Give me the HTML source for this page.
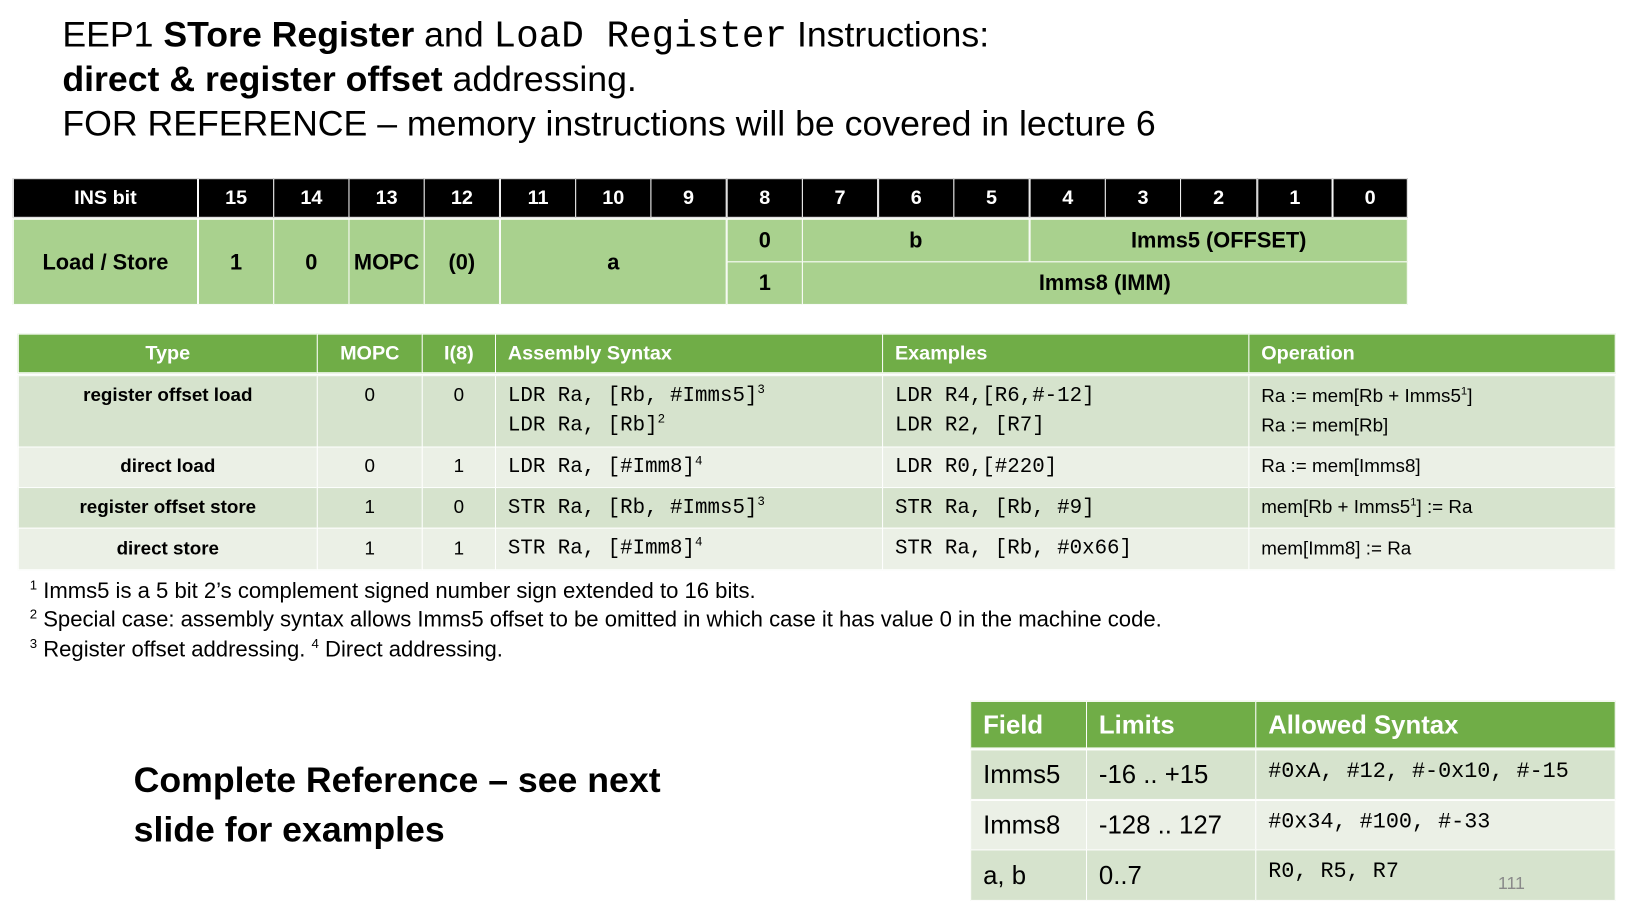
<!DOCTYPE html>
<html><head><meta charset="utf-8"><style>
*{margin:0;padding:0;box-sizing:border-box}
body{width:1642px;height:916px;background:#fff;position:relative;overflow:hidden;font-family:"Liberation Sans",sans-serif;color:#000}
#w{position:absolute;left:0;top:0;width:1642px;height:916px;transform:scale(0.99);transform-origin:0 0}
.a{position:absolute}
.c{position:absolute;display:flex;align-items:center;justify-content:center;border:1px solid #fff;white-space:nowrap}
.l{justify-content:flex-start;padding-left:12px}
.h{background:#000;color:#fff;font-weight:bold;font-size:20px}
.g{background:#a9d18e;font-weight:bold;font-size:22px}
.g2{background:#70ad47;color:#fff;font-weight:bold;font-size:20px}
.d{background:#d6e3cd}
.e{background:#ebf0e6}
.m{font-family:"Liberation Mono",monospace}
.t{font-size:19px}
sup{font-size:0.6em;vertical-align:super;line-height:0}
.title{position:absolute;left:63px;font-size:36px;white-space:nowrap}
</style></head><body><div id="w">
<div class="title" style="top:14px">EEP1 <b>STore Register</b> and <span class="m" style="font-size:38px">LoaD Register</span> Instructions:</div>
<div class="title" style="top:59px"><b>direct &amp; register offset</b> addressing.</div>
<div class="title" style="top:104px">FOR REFERENCE – memory instructions will be covered in lecture 6</div>

<div class="c h" style="left:13px;top:180px;width:187px;height:40px">INS bit</div>
<div class="c h" style="left:200px;top:180px;width:77px;height:40px">15</div>
<div class="c h" style="left:276px;top:180px;width:77px;height:40px">14</div>
<div class="c h" style="left:352px;top:180px;width:77px;height:40px">13</div>
<div class="c h" style="left:428px;top:180px;width:77px;height:40px">12</div>
<div class="c h" style="left:505px;top:180px;width:77px;height:40px">11</div>
<div class="c h" style="left:581px;top:180px;width:77px;height:40px">10</div>
<div class="c h" style="left:657px;top:180px;width:77px;height:40px">9</div>
<div class="c h" style="left:734px;top:180px;width:77px;height:40px">8</div>
<div class="c h" style="left:810px;top:180px;width:77px;height:40px">7</div>
<div class="c h" style="left:887px;top:180px;width:77px;height:40px">6</div>
<div class="c h" style="left:963px;top:180px;width:77px;height:40px">5</div>
<div class="c h" style="left:1040px;top:180px;width:77px;height:40px">4</div>
<div class="c h" style="left:1116px;top:180px;width:77px;height:40px">3</div>
<div class="c h" style="left:1192px;top:180px;width:78px;height:40px">2</div>
<div class="c h" style="left:1270px;top:180px;width:76px;height:40px">1</div>
<div class="c h" style="left:1346px;top:180px;width:76px;height:40px">0</div>

<div class="c g" style="left:13px;top:221px;width:187px;height:87px">Load / Store</div>
<div class="c g" style="left:200px;top:221px;width:77px;height:87px">1</div>
<div class="c g" style="left:276px;top:221px;width:77px;height:87px">0</div>
<div class="c g" style="left:352px;top:221px;width:77px;height:87px">MOPC</div>
<div class="c g" style="left:428px;top:221px;width:77px;height:87px">(0)</div>
<div class="c g" style="left:505px;top:221px;width:229px;height:87px">a</div>
<div class="c g" style="left:734px;top:221px;width:77px;height:44px">0</div>
<div class="c g" style="left:734px;top:264px;width:77px;height:44px">1</div>
<div class="c g" style="left:810px;top:221px;width:230px;height:44px">b</div>
<div class="c g" style="left:1040px;top:221px;width:382px;height:44px">Imms5 (OFFSET)</div>
<div class="c g" style="left:810px;top:264px;width:612px;height:44px">Imms8 (IMM)</div>

<div class="c g2" style="left:18px;top:337px;width:303px;height:40px">Type</div>
<div class="c g2" style="left:320px;top:337px;width:107px;height:40px">MOPC</div>
<div class="c g2" style="left:426px;top:337px;width:75px;height:40px">I(8)</div>
<div class="c g2 l" style="left:500px;top:337px;width:392px;height:40px">Assembly Syntax</div>
<div class="c g2 l" style="left:891px;top:337px;width:371px;height:40px">Examples</div>
<div class="c g2 l" style="left:1261px;top:337px;width:371px;height:40px">Operation</div>

<div class="c d t" style="left:18px;top:379px;width:303px;height:73px;align-items:flex-start;padding-top:9px;font-weight:bold">register offset load</div>
<div class="c d t" style="left:320px;top:379px;width:107px;height:73px;align-items:flex-start;padding-top:9px">0</div>
<div class="c d t" style="left:426px;top:379px;width:75px;height:73px;align-items:flex-start;padding-top:9px">0</div>
<div class="c d l m" style="left:500px;top:379px;width:392px;height:73px;font-size:21px;flex-direction:column;align-items:flex-start;justify-content:center;line-height:30px">
<div>LDR Ra, [Rb, #Imms5]<sup>3</sup></div><div>LDR Ra, [Rb]<sup>2</sup></div></div>
<div class="c d l m" style="left:891px;top:379px;width:371px;height:73px;font-size:21px;flex-direction:column;align-items:flex-start;justify-content:center;line-height:30px">
<div>LDR R4,[R6,#-12]</div><div>LDR R2, [R7]</div></div>
<div class="c d l t" style="left:1261px;top:379px;width:371px;height:73px;flex-direction:column;align-items:flex-start;justify-content:center;line-height:30px">
<div>Ra := mem[Rb + Imms5<sup>1</sup>]</div><div>Ra := mem[Rb]</div></div>

<div class="c e t" style="left:18px;top:451px;width:303px;height:42px;font-weight:bold">direct load</div>
<div class="c e t" style="left:320px;top:451px;width:107px;height:42px">0</div>
<div class="c e t" style="left:426px;top:451px;width:75px;height:42px">1</div>
<div class="c e l m" style="left:500px;top:451px;width:392px;height:42px;font-size:21px"><span>LDR Ra, [#Imm8]<sup>4</sup></span></div>
<div class="c e l m" style="left:891px;top:451px;width:371px;height:42px;font-size:21px">LDR R0,[#220]</div>
<div class="c e l t" style="left:1261px;top:451px;width:371px;height:42px">Ra := mem[Imms8]</div>

<div class="c d t" style="left:18px;top:492px;width:303px;height:42px;font-weight:bold">register offset store</div>
<div class="c d t" style="left:320px;top:492px;width:107px;height:42px">1</div>
<div class="c d t" style="left:426px;top:492px;width:75px;height:42px">0</div>
<div class="c d l m" style="left:500px;top:492px;width:392px;height:42px;font-size:21px"><span>STR Ra, [Rb, #Imms5]<sup>3</sup></span></div>
<div class="c d l m" style="left:891px;top:492px;width:371px;height:42px;font-size:21px">STR Ra, [Rb, #9]</div>
<div class="c d l t" style="left:1261px;top:492px;width:371px;height:42px"><span>mem[Rb + Imms5<sup>1</sup>] := Ra</span></div>

<div class="c e t" style="left:18px;top:533px;width:303px;height:43px;font-weight:bold">direct store</div>
<div class="c e t" style="left:320px;top:533px;width:107px;height:43px">1</div>
<div class="c e t" style="left:426px;top:533px;width:75px;height:43px">1</div>
<div class="c e l m" style="left:500px;top:533px;width:392px;height:43px;font-size:21px"><span>STR Ra, [#Imm8]<sup>4</sup></span></div>
<div class="c e l m" style="left:891px;top:533px;width:371px;height:43px;font-size:21px">STR Ra, [Rb, #0x66]</div>
<div class="c e l t" style="left:1261px;top:533px;width:371px;height:43px">mem[Imm8] := Ra</div>

<div class="a" style="left:30px;top:584px;font-size:22.3px;white-space:nowrap"><sup>1</sup> Imms5 is a 5 bit 2’s complement signed number sign extended to 16 bits.</div>
<div class="a" style="left:30px;top:613px;font-size:22.3px;white-space:nowrap"><sup>2</sup> Special case: assembly syntax allows Imms5 offset to be omitted in which case it has value 0 in the machine code.</div>
<div class="a" style="left:30px;top:643px;font-size:22.3px;white-space:nowrap"><sup>3</sup> Register offset addressing. <sup>4</sup> Direct addressing.</div>

<div class="a" style="left:135px;top:763px;font-size:36px;font-weight:bold;line-height:50px;white-space:nowrap">Complete Reference – see next<br>slide for examples</div>

<div class="c g2 l" style="left:980px;top:708px;width:118px;height:48px;font-size:26px">Field</div>
<div class="c g2 l" style="left:1097px;top:708px;width:172px;height:48px;font-size:26px">Limits</div>
<div class="c g2 l" style="left:1268px;top:708px;width:364px;height:48px;font-size:26px">Allowed Syntax</div>
<div class="c d l" style="left:980px;top:757px;width:118px;height:51px;font-size:26px">Imms5</div>
<div class="c d l" style="left:1097px;top:757px;width:172px;height:51px;font-size:26px">-16 .. +15</div>
<div class="c d l m" style="left:1268px;top:757px;width:364px;height:51px;font-size:22px;align-items:flex-start;padding-top:9px">#0xA, #12, #-0x10, #-15</div>
<div class="c e l" style="left:980px;top:808px;width:118px;height:51px;font-size:26px">Imms8</div>
<div class="c e l" style="left:1097px;top:808px;width:172px;height:51px;font-size:26px">-128 .. 127</div>
<div class="c e l m" style="left:1268px;top:808px;width:364px;height:51px;font-size:22px;align-items:flex-start;padding-top:9px">#0x34, #100, #-33</div>
<div class="c d l" style="left:980px;top:858px;width:118px;height:52px;font-size:26px">a, b</div>
<div class="c d l" style="left:1097px;top:858px;width:172px;height:52px;font-size:26px">0..7</div>
<div class="c d l m" style="left:1268px;top:858px;width:364px;height:52px;font-size:22px;align-items:flex-start;padding-top:9px">R0, R5, R7</div>
<div class="a" style="left:1513px;top:882px;font-size:18px;color:#8a8a8a">111</div>
</div></body></html>
